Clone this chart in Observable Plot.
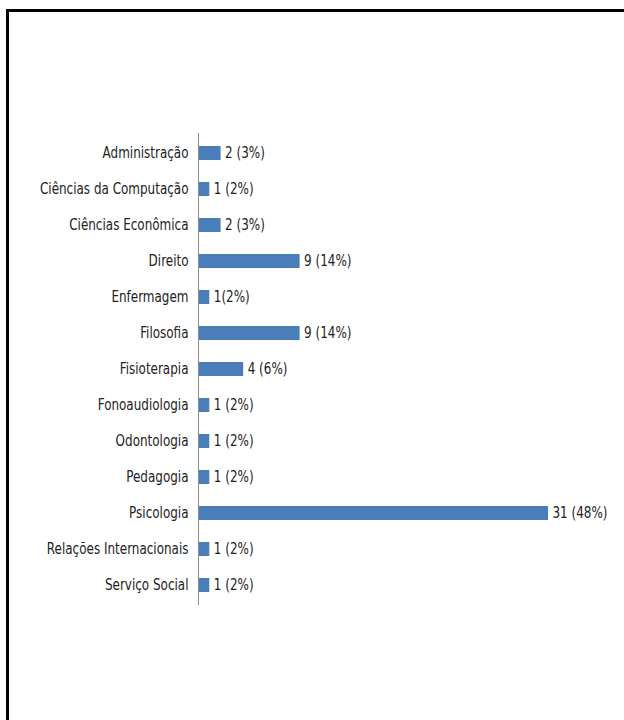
<!DOCTYPE html>
<html>
<head>
<meta charset="utf-8">
<script src="https://cdn.jsdelivr.net/npm/d3@7"></script>
<script src="https://cdn.jsdelivr.net/npm/@observablehq/plot@0.6"></script>
<style>
  html, body { margin: 0; padding: 0; background: #fff; }
  #wrap { position: relative; width: 624px; height: 720px; overflow: hidden; }
  #frame { position: absolute; left: 6px; top: 9px; width: 700px; height: 800px;
           border-left: 3px solid #000; border-top: 3px solid #000; box-sizing: border-box; }
  #chart { position: absolute; left: 0; top: 0; }
  svg { font-family: "Liberation Sans Narrow", "DejaVu Sans Condensed", "Arial Narrow", sans-serif; }
</style>
</head>
<body>
<div id="wrap"><div id="frame"></div><div id="chart"></div></div>
<script>
const categories = ["Administração", "Ciências da Computação", "Ciências Econômica", "Direito", "Enfermagem", "Filosofia", "Fisioterapia", "Fonoaudiologia", "Odontologia", "Pedagogia", "Psicologia", "Relações Internacionais", "Serviço Social"];
const counts = [2, 1, 2, 9, 1, 9, 4, 1, 1, 1, 31, 1, 1];
const valueLabels = ["2 (3%)", "1 (2%)", "2 (3%)", "9 (14%)", "1(2%)", "9 (14%)", "4 (6%)", "1 (2%)", "1 (2%)", "1 (2%)", "31 (48%)", "1 (2%)", "1 (2%)"];

const data = categories.map((c, i) => ({category: c, count: counts[i], label: valueLabels[i]}));

const chart = Plot.plot({
  width: 624,
  height: 720,
  marginLeft: 198,
  marginRight: 76,
  marginTop: 133,
  marginBottom: 115,
  style: {fontSize: "15px", color: "#222", background: "transparent"},
  x: {domain: [0, 31], axis: null},
  y: {domain: categories, label: null, padding: 0},
  marks: [
    Plot.barX(data, {y: "category", x: "count", fill: "#4a7ebb", insetTop: 11, insetBottom: 11}),
    Plot.ruleX([0], {stroke: "#8c8c8c", strokeWidth: 1}),
    Plot.axisY({tickSize: 0, tickPadding: 10, label: null, fill: "#222", fontSize: 15.5}),
    Plot.text(data, {y: "category", x: "count", text: "label", textAnchor: "start", dx: 4, fill: "#222", fontSize: 15.5})
  ]
});
// condense glyphs horizontally (about each text's own anchor) to imitate a narrow typeface
d3.select(chart).selectAll("text").each(function() {
  const xa = parseFloat(this.getAttribute("x")) || 0;
  const t = this.getAttribute("transform") || "";
  this.setAttribute("transform", `${t} translate(${xa},0) scale(0.86,1) translate(${-xa},0)`);
});
document.getElementById("chart").appendChild(chart);
</script>
</body>
</html>
